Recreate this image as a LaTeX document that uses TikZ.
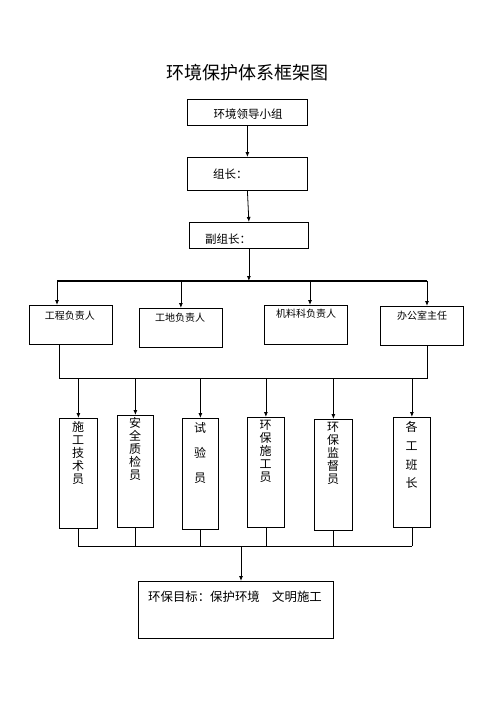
\documentclass[tikz,border=0pt]{standalone}
\usepackage{fontspec}
\setmainfont{Noto Sans CJK SC}
\usetikzlibrary{arrows.meta}
\begin{document}
\begin{tikzpicture}[x=1pt,y=-1pt,
  box/.style={draw,line width=0.8pt,inner sep=0pt,anchor=north west},
  arr/.style={-{Latex[length=5pt,width=4pt]},line width=0.8pt},
  ln/.style={line width=0.8pt},
  bus/.style={line width=2.2pt},
  ht/.style={inner sep=0pt,font=\fontsize{10}{12}\selectfont},
  mt/.style={inner sep=0pt,font=\fontsize{11.5}{13}\selectfont},
  vt/.style={inner sep=0pt,align=center,font=\fontsize{12}{13}\selectfont}]
\useasboundingbox (0,0) rectangle (496,702);

% title
\node[inner sep=0pt,font=\fontsize{18}{20}\selectfont] (title) at (247,73) {环境保护体系框架图};

% top chain
\node[box,minimum width=120pt,minimum height=26pt] (b1) at (187,99) {};
\node[mt] (t1) at (248,114) {环境领导小组};
\node[box,minimum width=120pt,minimum height=33pt] (b2) at (187,157) {};
\node[mt,anchor=west] (t2) at (213,174) {组长：};
\node[box,minimum width=119pt,minimum height=26pt] (b3) at (189,222) {};
\node[mt,anchor=west] (t3) at (205,239) {副组长：};
\draw[arr] (b1.south) -- (b2.north);
\draw[arr] (b2.south) -- (b3.north);

% top bus
\coordinate (busL) at (57,281);
\coordinate (busR) at (427,281);
\coordinate (busC) at (310,281);
\draw[bus] (busL) -- (busR);
\draw[arr] (b3.south) -- (b3.south |- busL);

% middle boxes
\node[box,minimum width=83pt,minimum height=39pt] (m1) at (29,305) {};
\node[ht] (tm1) at (70,316) {工程负责人};
\node[box,minimum width=83pt,minimum height=39pt] (m2) at (139,308) {};
\node[ht] (tm2) at (180,318) {工地负责人};
\node[box,minimum width=83pt,minimum height=39pt] (m3) at (264,305) {};
\node[ht] (tm3) at (306,314) {机料科负责人};
\node[box,minimum width=83pt,minimum height=39pt] (m4) at (380,306) {};
\node[ht] (tm4) at (422,316) {办公室主任};
\draw[arr] (busL) -- (busL |- m1.north);
\draw[arr] (m2.north |- busL) -- (m2.north);
\draw[arr] (busC) -- (busC |- m3.north);
\draw[arr] (busR) -- (busR |- m4.north);

% lower bus
\coordinate (lb1) at (59,378);
\coordinate (lb2) at (427,378);
\draw[ln] (lb1 |- m1.south) -- (lb1) -- (lb2) -- (lb2 |- m4.south);

% vertical boxes
\node[box,minimum width=38pt,minimum height=110pt] (v1) at (59,418) {};
\node[box,minimum width=36pt,minimum height=112pt] (v2) at (117,415) {};
\node[box,minimum width=36pt,minimum height=111pt] (v3) at (182,418) {};
\node[box,minimum width=37pt,minimum height=110pt] (v4) at (247,417) {};
\node[box,minimum width=38pt,minimum height=111pt] (v5) at (314,419) {};
\node[box,minimum width=37pt,minimum height=110pt] (v6) at (393,417) {};
\node[vt] (tv1) at (78,452.5) {施\\工\\技\\术\\员};
\node[vt] (tv2) at (135,449) {安\\全\\质\\检\\员};
\node[vt,font=\fontsize{12}{25}\selectfont] (tv3) at (200,453) {试\\验\\员};
\node[vt] (tv4) at (265.5,451) {环\\保\\施\\工\\员};
\node[vt] (tv5) at (333,453.5) {环\\保\\监\\督\\员};
\node[vt,font=\fontsize{12}{18.7}\selectfont] (tv6) at (411.5,455) {各\\工\\班\\长};
\foreach \v in {v1,v2,v3,v4,v5,v6}
  \draw[arr] (\v.north |- lb1) -- (\v.north);

% bottom bus
\coordinate (bb) at (0,546);
\coordinate (ga) at (241,546);
\draw[ln] (v1.south |- bb) -- (v6.south |- bb);
\foreach \v in {v1,v2,v3,v4,v5,v6}
  \draw[ln] (\v.south) -- (\v.south |- bb);

% goal box
\node[box,minimum width=195pt,minimum height=57pt] (g) at (138,581) {};
\node[inner sep=0pt,anchor=west,font=\fontsize{12.4}{14}\selectfont] (tg) at (148,597) {环保目标：保护环境\hspace*{1em}文明施工};
\draw[arr] (ga) -- (ga |- g.north);
\end{tikzpicture}
\end{document}
